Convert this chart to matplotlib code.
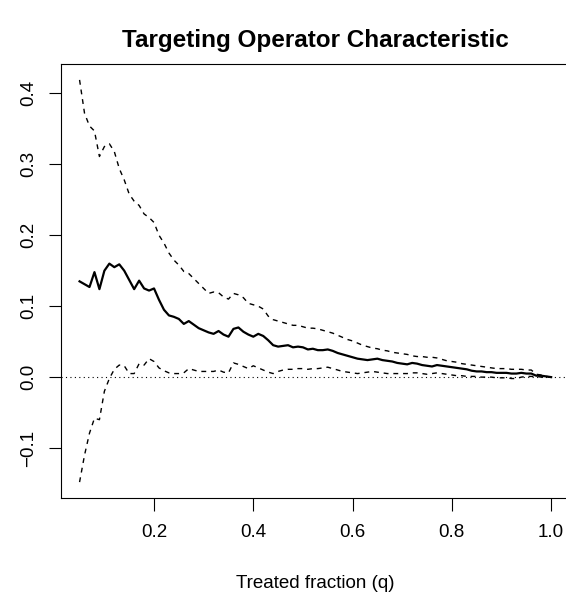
import matplotlib
matplotlib.use("Agg")
import matplotlib.pyplot as plt
import numpy as np

plt.rcParams['font.family'] = ['Liberation Sans', 'DejaVu Sans']

# treated fraction q (0.05 .. 1.00, step 0.01)
q = np.round(np.arange(5, 101) / 100, 2)

toc = [0.135, 0.131, 0.127, 0.148, 0.124, 0.150, 0.160, 0.155, 0.159, 0.150,
       0.137, 0.124, 0.136, 0.125, 0.122, 0.125, 0.109, 0.095, 0.087, 0.085,
       0.082, 0.075, 0.079, 0.074, 0.069, 0.066, 0.063, 0.061, 0.065, 0.060,
       0.057, 0.068, 0.070, 0.064, 0.060, 0.057, 0.061, 0.058, 0.052, 0.045,
       0.043, 0.044, 0.045, 0.042, 0.043, 0.042, 0.039, 0.040, 0.038, 0.038,
       0.039, 0.037, 0.034, 0.032, 0.030, 0.028, 0.026, 0.025, 0.024, 0.025,
       0.026, 0.024, 0.023, 0.022, 0.020, 0.019, 0.018, 0.020, 0.019, 0.017,
       0.016, 0.015, 0.017, 0.016, 0.015, 0.014, 0.013, 0.012, 0.011, 0.009,
       0.008, 0.008, 0.007, 0.007, 0.006, 0.006, 0.006, 0.005, 0.005, 0.006,
       0.005, 0.005, 0.002, 0.002, 0.001, 0.000]

upper = [0.419, 0.372, 0.354, 0.347, 0.311, 0.325, 0.329, 0.318, 0.294, 0.278,
         0.258, 0.248, 0.242, 0.230, 0.225, 0.218, 0.200, 0.189, 0.175, 0.165,
         0.158, 0.149, 0.146, 0.139, 0.132, 0.125, 0.118, 0.120, 0.119, 0.113,
         0.110, 0.118, 0.116, 0.112, 0.104, 0.102, 0.100, 0.096, 0.086, 0.081,
         0.079, 0.077, 0.075, 0.073, 0.073, 0.071, 0.069, 0.069, 0.068, 0.066,
         0.064, 0.062, 0.059, 0.056, 0.053, 0.051, 0.048, 0.045, 0.043, 0.041,
         0.040, 0.038, 0.037, 0.035, 0.034, 0.033, 0.032, 0.030, 0.029, 0.029,
         0.028, 0.028, 0.027, 0.025, 0.023, 0.022, 0.021, 0.019, 0.018, 0.017,
         0.016, 0.015, 0.014, 0.013, 0.012, 0.012, 0.012, 0.011, 0.011, 0.011,
         0.010, 0.010, 0.004, 0.003, 0.001, 0.000]

lower = [-0.148, -0.110, -0.079, -0.058, -0.060, -0.020, -0.002, 0.011, 0.017, 0.016,
         0.005, 0.005, 0.019, 0.017, 0.026, 0.022, 0.013, 0.009, 0.006, 0.005,
         0.005, 0.006, 0.012, 0.010, 0.008, 0.008, 0.008, 0.008, 0.010, 0.007,
         0.006, 0.020, 0.018, 0.015, 0.012, 0.016, 0.013, 0.010, 0.007, 0.005,
         0.008, 0.010, 0.011, 0.011, 0.012, 0.012, 0.011, 0.012, 0.012, 0.013,
         0.014, 0.012, 0.010, 0.008, 0.007, 0.006, 0.005, 0.006, 0.007, 0.008,
         0.007, 0.006, 0.005, 0.005, 0.005, 0.005, 0.005, 0.006, 0.006, 0.005,
         0.004, 0.005, 0.006, 0.005, 0.004, 0.003, 0.002, 0.002, 0.001, 0.001,
         0.001, 0.000, 0.000, 0.000, -0.001, -0.001, -0.001, -0.002, -0.002, 0.000,
         0.001, 0.001, 0.001, 0.000, 0.000, 0.000]

xticks = [0.2, 0.4, 0.6, 0.8, 1.0]
yticks = [-0.1, 0.0, 0.1, 0.2, 0.3, 0.4]

fig = plt.figure(figsize=(5.66, 6.03), dpi=100)
# plot region runs a little past the right edge of the image, like the original
ax = fig.add_axes([60.7 / 566, 1 - 497.7 / 603, (570 - 60.7) / 566, (497.7 - 64.3) / 603])

ax.plot(q, upper, color='black', lw=1.0, ls=(0, (3.5, 3.5)))
ax.plot(q, lower, color='black', lw=1.0, ls=(0, (3.5, 3.5)))
ax.plot(q, toc, color='black', lw=1.6)
ax.axhline(0, color='black', lw=0.8, ls=(0, (1, 3)))

ax.set_xlim(0.012, 1.038)
ax.set_ylim(-0.170, 0.441)
ax.set_xticks(xticks)
ax.set_xticklabels(['%.1f' % t for t in xticks])
ax.set_yticks(yticks)
ax.set_yticklabels([('%.1f' % t).replace('-', '\u2212') for t in yticks],
                   rotation=90, va='center')

for s in ax.spines.values():
    s.set_linewidth(0.8)
ax.spines['right'].set_visible(False)
ax.tick_params(direction='out', length=9, width=0.8, labelsize=13.5)
ax.tick_params(axis='x', pad=10)
ax.tick_params(axis='y', pad=8)

ax.set_xlabel('Treated fraction (q)', fontsize=13.5)
ax.xaxis.set_label_coords(0.5, -0.197)
ax.xaxis.label.set_va('center')
ax.set_title('Targeting Operator Characteristic', fontsize=17.5,
             fontweight='bold', y=1.056, va='center', pad=0)

fig.savefig('out.png', dpi=100)
